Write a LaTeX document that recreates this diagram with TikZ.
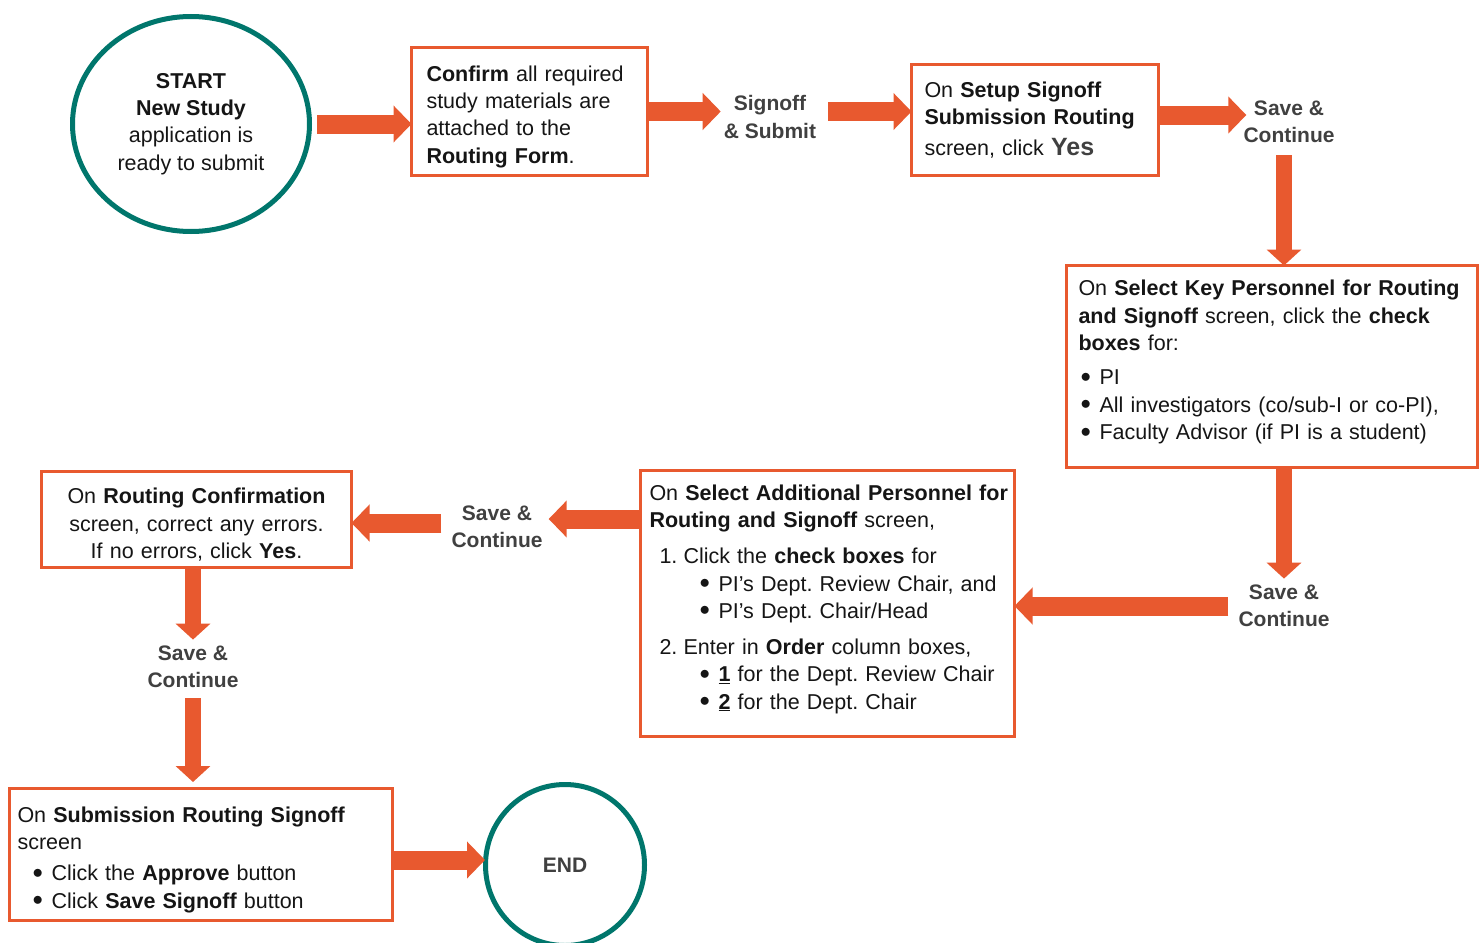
\documentclass[tikz,border=0pt]{standalone}
\usepackage{fontspec}
\setmainfont{Liberation Sans}
\usetikzlibrary{arrows.meta,shapes.geometric,calc}
\definecolor{orng}{HTML}{E8592F}
\definecolor{tealc}{HTML}{00766C}
\definecolor{lblc}{HTML}{404040}
\definecolor{txtc}{HTML}{151515}
\frenchspacing
\newcommand\bodyfont{\fontsize{21.5}{27.4}\selectfont}
\newcommand\lblfont{\fontsize{21}{27.5}\selectfont\bfseries}
\newcommand\bul{\makebox[19pt][l]{\raisebox{2.5pt}{$\bullet$}}}
\newcommand\topstrut{\rule{0pt}{26pt}}
\newcommand\botstrut{\rule[-13pt]{0pt}{1pt}}
\begin{document}
\begin{tikzpicture}[x=1pt,y=-1pt,
  stepbox/.style={draw=orng, line width=3pt, rectangle, inner sep=0pt, text=txtc, font=\bodyfont},
  term/.style={draw=tealc, line width=5pt, ellipse, inner sep=0pt, text=txtc, font=\bodyfont, align=center},
  lbl/.style={inner sep=0pt, text=lblc, font=\lblfont, align=center},
  fat/.style={draw=orng, line width=19pt, -{Triangle[length=18pt,width=36pt]}},
  fatv/.style={draw=orng, line width=16pt, -{Triangle[length=16pt,width=34pt]}}]
\useasboundingbox (0,0) rectangle (1482,942);

% terminals
\node[term, minimum width=237pt, minimum height=215pt] (start) at (191,124)
  {\textbf{START}\\\textbf{New Study}\\application is\\ready to submit};
\node[term, minimum width=159pt, minimum height=161pt, font=\lblfont, text=lblc] (end) at (565,865) {END};

% boxes
\node[stepbox, minimum width=236pt, minimum height=128pt, text width=206pt, align=left] (b1) at (529.5,111.5)
  {\topstrut\textbf{Confirm} all required\\study materials are\\attached to the\\\textbf{Routing Form}.};
\node[stepbox, minimum width=247pt, minimum height=111pt, text width=221pt, align=left] (b2) at (1035,120)
  {On \textbf{Setup Signoff}\\\textbf{Submission Routing}\\[3pt]screen, click {\fontsize{25}{27}\selectfont\bfseries\color{lblc}Yes}};
\node[stepbox, minimum width=411pt, minimum height=202pt, text width=387pt, align=left] (b3) at (1272,366.5)
  {On \textbf{Select Key Personnel for Routing}\\\textbf{and Signoff} screen, click the \textbf{check}\\\textbf{boxes} for:\\[7pt]
   \hspace*{2pt}\bul PI\\\hspace*{2pt}\bul All investigators (co/sub-I or co-PI),\\\hspace*{2pt}\bul Faculty Advisor (if PI is a student)\botstrut};
\node[stepbox, minimum width=374pt, minimum height=266pt, text width=356pt, align=left] (b4) at (827.5,603.5)
  {\mbox{On \textbf{Select Additional Personnel for}}\\\textbf{Routing and Signoff} screen,\\[8.5pt]
   \hspace*{10pt}\makebox[24pt][l]{1.}Click the \textbf{check boxes} for\\
   \hspace*{50pt}\bul PI’s Dept. Review Chair, and\\
   \hspace*{50pt}\bul PI’s Dept. Chair/Head\\[8.5pt]
   \hspace*{10pt}\makebox[24pt][l]{2.}Enter in \textbf{Order} column boxes,\\
   \hspace*{50pt}\bul \underline{\textbf{1}} for the Dept. Review Chair\\
   \hspace*{50pt}\bul \underline{\textbf{2}} for the Dept. Chair\botstrut};
\node[stepbox, minimum width=310pt, minimum height=96pt, text width=300pt, align=center] (b5) at (196.5,519.5)
  {\topstrut On \textbf{Routing Confirmation}\\screen, correct any errors.\\If no errors, click \textbf{Yes}.};
\node[stepbox, minimum width=383pt, minimum height=132pt, text width=367pt, align=left] (b6) at (201,854.5)
  {\topstrut On \textbf{Submission Routing Signoff}\\screen\\[4pt]
   \hspace*{15pt}\bul Click the \textbf{Approve} button\\
   \hspace*{15pt}\bul Click \textbf{Save Signoff} button};

% labels
\node[lbl] (ss) at (770,117) {Signoff\\\& Submit};
\node[lbl] (s1) at (1289,122) {Save \&\\Continue};
\node[lbl] (s2) at (1284,606) {Save \&\\Continue};
\node[lbl] (s3) at (497,527) {Save \&\\Continue};
\node[lbl] (s4) at (193,667) {Save \&\\Continue};

% connectors
\draw[fat, shorten <=5pt, shorten >=-1.5pt] (start.east) -- (start.east -| b1.west);
\draw[fat, shorten >=3pt] (b1.east) -- (b1.east -| ss.west);
\draw[fat, shorten <=12pt, shorten >=-1.5pt] (b1.east -| ss.east) -- (b1.east -| b2.west);
\draw[fat, shorten >=-3pt] ([yshift=5pt]b2.east) -- ([yshift=5pt]b2.east -| s1.west);
\draw[fatv, shorten <=12pt, shorten >=-1.5pt] ([xshift=-5pt]s1.south) -- ([xshift=-5pt]s1.south |- b3.north);
\draw[fatv, shorten >=6pt] (s2.north |- b3.south) -- (s2.north);
\draw[fat, shorten <=10pt, shorten >=-1.5pt] (s2.west) -- (s2.west -| b4.east);
\draw[fat, shorten >=6pt] ([yshift=8pt]s3.east -| b4.west) -- ([yshift=8pt]s3.east);
\draw[fat, shorten <=10pt, shorten >=-1.5pt] ([yshift=4pt]s3.west) -- ([yshift=4pt]s3.west -| b5.east);
\draw[fatv, shorten >=6pt] (s4.north |- b5.south) -- (s4.north);
\draw[fatv, shorten <=10pt, shorten >=5pt] (s4.south) -- (s4.south |- b6.north);
\draw[fat, shorten >=-2pt] ([yshift=5pt]end.west -| b6.east) -- ([yshift=5pt]end.west);
\end{tikzpicture}
\end{document}
